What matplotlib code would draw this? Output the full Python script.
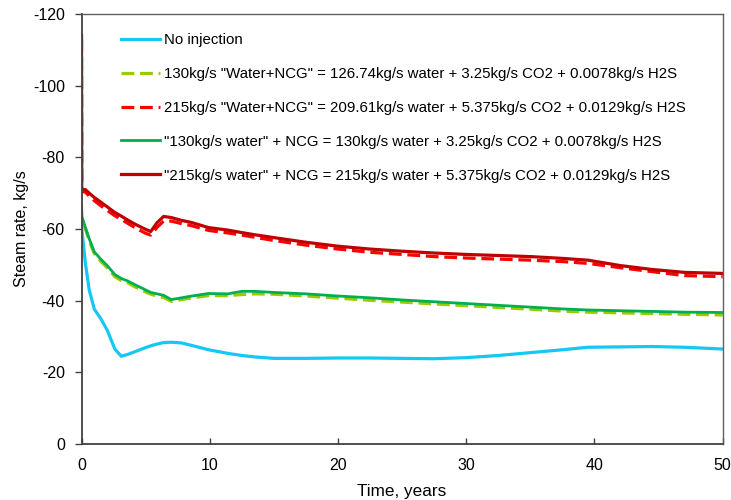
import matplotlib
matplotlib.use("Agg")
import matplotlib.pyplot as plt

plt.rcParams["font.family"] = ["Liberation Sans", "DejaVu Sans"]
plt.rcParams["axes.unicode_minus"] = False

# Simulation output times (years)
time_years = [0, 0.02, 0.3, 0.6, 1.0, 1.5, 2.0, 2.6, 3.1, 3.6, 4.2, 5.0, 5.4, 5.9,
              6.4, 7.0, 7.8, 8.6, 9.9, 11.4, 12.5, 13.5, 15.0, 17.5, 20.0, 22.5,
              25.0, 27.5, 30.0, 32.5, 35.0, 37.5, 39.5, 42.0, 44.5, 47.0, 50.0]

# Steam rates (kg/s, production is negative)
no_injection = [-61, -60, -50.5, -43, -37.6, -35.0, -31.8, -26.5, -24.5, -25.0, -25.8,
                -26.9, -27.4, -27.9, -28.3, -28.4, -28.2, -27.5, -26.3, -25.3, -24.7,
                -24.3, -23.9, -23.9, -24.0, -24.0, -23.9, -23.8, -24.1, -24.7, -25.5,
                -26.3, -27.0, -27.1, -27.2, -27.0, -26.5]

mix_130 = [-66, -63, -60, -56.8, -53.1, -51.0, -49.2, -46.7, -45.6, -45.0, -43.8,
           -42.4, -41.8, -41.3, -40.9, -39.8, -40.3, -40.8, -41.4, -41.4, -41.7,
           -41.9, -41.8, -41.3, -40.7, -40.1, -39.6, -39.1, -38.6, -38.1, -37.6,
           -37.1, -36.8, -36.6, -36.4, -36.2, -36.0]

mix_215 = [-113, -70.5, -70.3, -69.2, -67.9, -66.5, -65.2, -63.7, -62.7, -61.6, -60.3,
           -58.8, -58.3, -60.5, -62.2, -62.2, -61.5, -60.9, -59.6, -58.9, -58.3,
           -57.7, -56.8, -55.5, -54.4, -53.5, -52.9, -52.3, -51.9, -51.6, -51.3,
           -50.9, -50.4, -49.2, -48.1, -47.0, -46.7]

water_130 = [-66.5, -63.5, -60.5, -57.3, -53.6, -51.6, -49.8, -47.3, -46.2, -45.5, -44.4,
             -43.0, -42.3, -41.9, -41.5, -40.3, -40.8, -41.3, -42.0, -41.9, -42.6,
             -42.6, -42.3, -41.9, -41.3, -40.8, -40.2, -39.7, -39.2, -38.7, -38.2,
             -37.7, -37.4, -37.2, -37.0, -36.8, -36.7]

water_215 = [-114, -71.0, -71.0, -70.0, -68.8, -67.5, -66.2, -64.6, -63.6, -62.5, -61.3,
             -59.9, -59.3, -61.8, -63.5, -63.2, -62.4, -61.8, -60.4, -59.7, -59.0,
             -58.4, -57.6, -56.3, -55.2, -54.4, -53.8, -53.3, -52.9, -52.6, -52.3,
             -51.8, -51.3, -49.8, -48.7, -47.9, -47.6]

labels = [
    "No injection",
    '130kg/s "Water+NCG" = 126.74kg/s water + 3.25kg/s CO2 + 0.0078kg/s H2S',
    '215kg/s "Water+NCG" = 209.61kg/s water + 5.375kg/s CO2 + 0.0129kg/s H2S',
    '"130kg/s water" + NCG = 130kg/s water + 3.25kg/s CO2 + 0.0078kg/s H2S',
    '"215kg/s water" + NCG = 215kg/s water + 5.375kg/s CO2 + 0.0129kg/s H2S',
]

fig = plt.figure(figsize=(7.31, 5.0), dpi=100)
ax = fig.add_axes([0.1115, 0.112, 0.8772, 0.860])

ax.plot(time_years, no_injection, color="#14C8F5", lw=2.3, label=labels[0])
ax.plot(time_years, mix_130, color="#99CC00", lw=2.3, ls=(0, (4.0, 1.8)), label=labels[1])
ax.plot(time_years, mix_215, color="#FF0000", lw=2.3, ls=(0, (4.0, 1.8)), label=labels[2])
ax.plot(time_years, water_130, color="#00B050", lw=2.0, label=labels[3])
ax.plot(time_years, water_215, color="#C00000", lw=2.3, label=labels[4])

ax.set_xlim(0, 50)
ax.set_ylim(0, -120)
ax.set_xticks(range(0, 51, 10))
ax.set_yticks(range(0, -121, -20))

ax.tick_params(axis="y", direction="out", length=5, width=1.0, colors="#404040",
               labelcolor="black", labelsize=11.5, pad=7)
ax.tick_params(axis="x", direction="in", length=4.5, width=1.0, colors="#404040",
               labelcolor="black", labelsize=11.5, pad=10)

for side in ("left", "bottom"):
    ax.spines[side].set_color("#404040")
    ax.spines[side].set_linewidth(1.3)
for side in ("top", "right"):
    ax.spines[side].set_color("#606060")
    ax.spines[side].set_linewidth(1.0)

ax.set_xlabel("Time, years", fontsize=12.3, labelpad=8)
ax.set_ylabel("Steam rate, kg/s", fontsize=11.5, labelpad=3)

ax.legend(loc="upper left", bbox_to_anchor=(0.053, 0.969), frameon=False,
          fontsize=10.8, handlelength=2.6, handletextpad=0.25, labelspacing=1.32,
          borderaxespad=0)

fig.savefig("out.png", dpi=100)
